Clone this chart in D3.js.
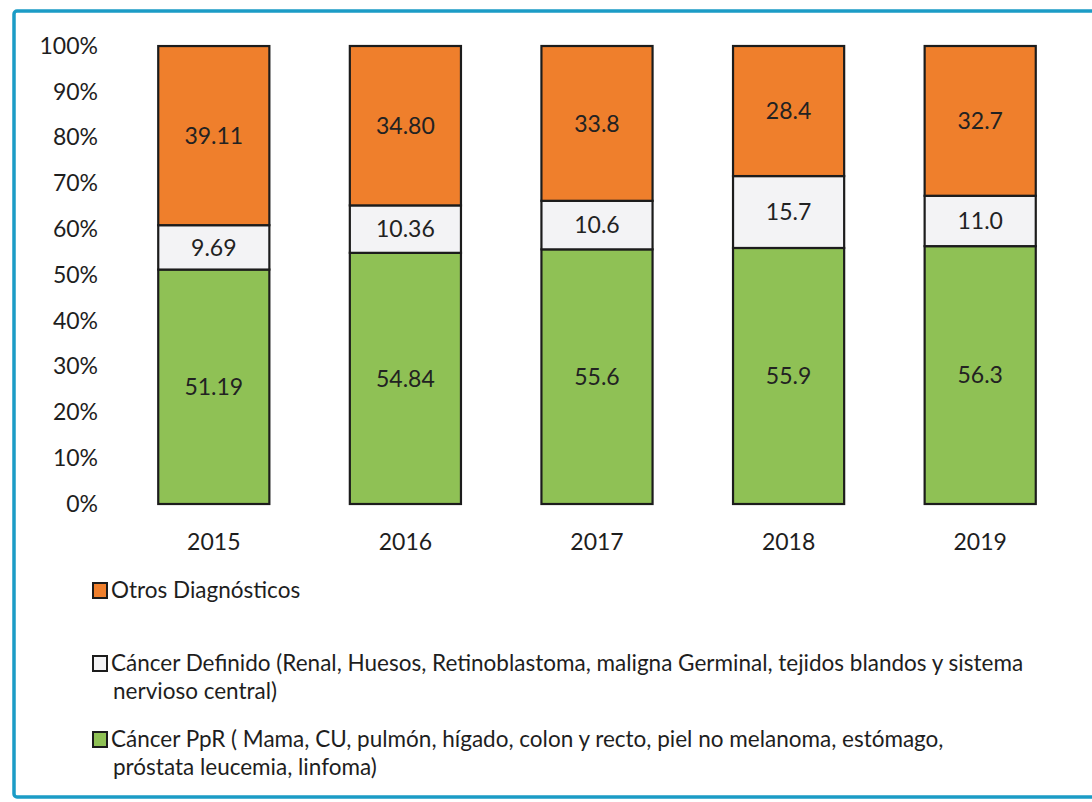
<!DOCTYPE html>
<html>
<head>
<meta charset="utf-8">
<script src="https://d3js.org/d3.v7.min.js"></script>
<style>
    body { margin: 0; background: #fff; }
    svg { display: block; font-family: Lato, "Open Sans", sans-serif; }
    .tick text { fill: #1e1e1e; }
</style>
</head>
<body>
<div id="chart"></div>
<script>
// Chart values
const years = ["2015", "2016", "2017", "2018", "2019"];
const ppr = [51.19, 54.84, 55.6, 55.9, 56.3];
const definido = [9.69, 10.36, 10.6, 15.7, 11.0];
const otros = [39.11, 34.80, 33.8, 28.4, 32.7];
// labels as printed in the picture
const pprLabels = ["51.19", "54.84", "55.6", "55.9", "56.3"];
const definidoLabels = ["9.69", "10.36", "10.6", "15.7", "11.0"];
const otrosLabels = ["39.11", "34.80", "33.8", "28.4", "32.7"];
const yTicks = [0, 10, 20, 30, 40, 50, 60, 70, 80, 90, 100];
const legendLines = [
    { key: "otros", lines: ["Otros Diagnósticos"] },
    { key: "definido", lines: ["Cáncer Definido (Renal, Huesos, Retinoblastoma, maligna Germinal, tejidos blandos y sistema", "nervioso central)"] },
    { key: "ppr", lines: ["Cáncer PpR ( Mama, CU, pulmón, hígado, colon y recto, piel no melanoma, estómago,", "próstata leucemia, linfoma)"] }
];

const width = 1092, height = 802;
const colors = { ppr: "#8fc155", definido: "#f3f3f5", otros: "#ef7f2c" };

const svg = d3.select("#chart").append("svg")
    .attr("width", width)
    .attr("height", height);

// outer blue frame (right side runs off the picture)
svg.append("rect")
    .attr("x", 14).attr("y", 11)
    .attr("width", 1100).attr("height", 786)
    .attr("rx", 3)
    .attr("fill", "none")
    .attr("stroke", "#1b9cc6")
    .attr("stroke-width", 3.5);

const x = d3.scaleBand()
    .domain(years)
    .range([118, 1076])
    .paddingInner(0.42)
    .paddingOuter(0.21);

const y = d3.scaleLinear()
    .domain([0, 100])
    .range([504, 46]);

// stack the three series
const rows = years.map((yr, i) => ({ year: yr, ppr: ppr[i], definido: definido[i], otros: otros[i], i }));
const keys = ["ppr", "definido", "otros"];
const labels = { ppr: pprLabels, definido: definidoLabels, otros: otrosLabels };
const series = d3.stack().keys(keys)(rows);

// y axis
svg.append("g")
    .attr("transform", "translate(98,0)")
    .call(d3.axisLeft(y).tickValues(yTicks).tickSize(0).tickPadding(0).tickFormat(d => d + "%"))
    .call(g => g.select(".domain").remove())
    .selectAll("text")
    .attr("font-size", 23)
    .attr("font-family", "Lato, sans-serif");

// x axis
svg.append("g")
    .attr("transform", "translate(0,504)")
    .call(d3.axisBottom(x).tickSize(0).tickPadding(30))
    .call(g => g.select(".domain").remove())
    .selectAll("text")
    .attr("font-size", 23)
    .attr("font-family", "Lato, sans-serif");

const layer = svg.selectAll("g.layer")
    .data(series)
    .join("g")
    .attr("class", "layer");

layer.selectAll("rect")
    .data(d => d.map(p => Object.assign({}, p, { key: d.key })))
    .join("rect")
    .attr("x", d => x(d.data.year))
    .attr("width", x.bandwidth())
    .attr("y", d => y(d[1]))
    .attr("height", d => y(d[0]) - y(d[1]))
    .attr("fill", d => colors[d.key])
    .attr("stroke", "#1c1c1c")
    .attr("stroke-width", 2.2);

layer.selectAll("text")
    .data(d => d.map(p => Object.assign({}, p, { key: d.key })))
    .join("text")
    .attr("x", d => x(d.data.year) + x.bandwidth() / 2)
    .attr("y", d => (y(d[0]) + y(d[1])) / 2)
    .attr("dy", "0.36em")
    .attr("text-anchor", "middle")
    .attr("font-size", 23)
    .attr("fill", "#222")
    .text(d => labels[d.key][d.data.i]);

// legend
const legendTop = [598, 671, 747];
const legend = svg.selectAll("g.legend")
    .data(legendLines)
    .join("g")
    .attr("class", "legend")
    .attr("transform", (d, i) => `translate(0,${legendTop[i]})`);

legend.append("rect")
    .attr("x", 93).attr("y", -15)
    .attr("width", 14).attr("height", 15)
    .attr("fill", d => colors[d.key])
    .attr("stroke", "#1c1c1c")
    .attr("stroke-width", 2);

legend.selectAll("text")
    .data(d => d.lines)
    .join("text")
    .attr("x", (d, j) => j === 0 ? 111 : 113)
    .attr("y", (d, j) => j * 28)
    .attr("font-size", 22.5)
    .attr("fill", "#1e1e1e")
    .text(d => d);
</script>
</body>
</html>
